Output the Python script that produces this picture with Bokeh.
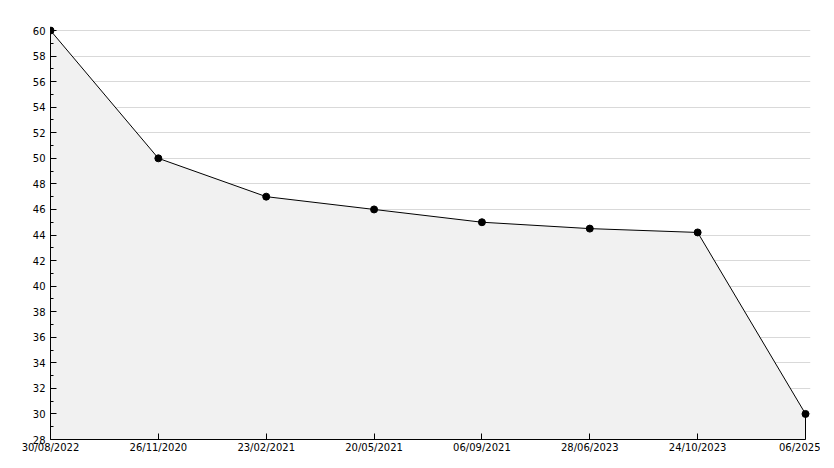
from bokeh.plotting import figure
from bokeh.models import FixedTicker, ColumnDataSource, Range1d, HTMLLabel
from bokeh.embed import file_html
from bokeh.resources import INLINE

categories = ["30/08/2022", "26/11/2020", "23/02/2021", "20/05/2021",
              "06/09/2021", "28/06/2023", "24/10/2023", "06/2025"]
values = [60, 50, 47, 46, 45, 44.5, 44.2, 30]
y_min, y_max = 28, 60

xs = list(range(len(categories)))
src = ColumnDataSource(dict(x=xs, y=values, base=[y_min] * len(xs)))

# padding at the top and right only (no axis there) so edge markers are not clipped
px_pad = 5
data_w, data_h = 755, 409
xpad = (len(xs) - 1) / data_w * px_pad
ypad = (y_max - y_min) / data_h * px_pad

p = figure(width=830, height=464, output_backend="svg", toolbar_location=None,
           x_range=Range1d(0, len(xs) - 1 + xpad), y_range=Range1d(y_min, y_max + ypad),
           min_border_left=50, min_border_right=10, min_border_top=30 - px_pad,
           min_border_bottom=10,
           frame_width=data_w + px_pad, frame_height=data_h + px_pad)
p.outline_line_color = None
p.background_fill_color = "white"

p.varea(x="x", y1="base", y2="y", source=src, fill_color="#f1f1f1")
p.line(x="x", y="y", source=src, line_color="black", line_width=1)
p.segment(x0=[xs[-1]], y0=[y_min], x1=[xs[-1]], y1=[values[-1]], line_color="black", line_width=1)
p.scatter(x="x", y="y", source=src, marker="circle", size=7, fill_color="black", line_color="black")

# marker drawn as an HTML box for the point on the left axis (not clipped by the frame)
p.add_layout(HTMLLabel(x=xs[0], y=values[0], text="", text_font_size="1px",
                       text_align="center", text_baseline="middle",
                       background_fill_color="black", padding=3, border_radius=3))

p.xaxis.ticker = FixedTicker(ticks=xs)
p.xaxis.major_label_overrides = {i: c for i, c in enumerate(categories)}
p.yaxis.ticker = FixedTicker(ticks=list(range(y_min, y_max + 1, 2)),
                             minor_ticks=list(range(y_min + 1, y_max, 2)))
p.xaxis.bounds = (xs[0], xs[-1])
p.yaxis.bounds = (y_min, y_max)

for ax in (p.xaxis[0], p.yaxis[0]):
    ax.axis_line_color = "black"
    ax.axis_line_width = 1
    ax.major_tick_in = 6
    ax.major_tick_out = 0
    ax.minor_tick_in = 3
    ax.minor_tick_out = 0
    ax.major_tick_line_color = "black"
    ax.minor_tick_line_color = "black"
    ax.major_label_text_font = "DejaVu Sans"
    ax.major_label_text_font_size = "10px"
    ax.major_label_text_color = "black"
p.xaxis.minor_tick_line_color = None
p.xaxis.major_label_standoff = 2
p.yaxis.major_label_standoff = 5

p.xgrid.grid_line_color = None
p.ygrid.grid_line_color = "#d9d9d9"
p.ygrid.grid_line_width = 1

open("out.html", "w").write(file_html(p, INLINE))
